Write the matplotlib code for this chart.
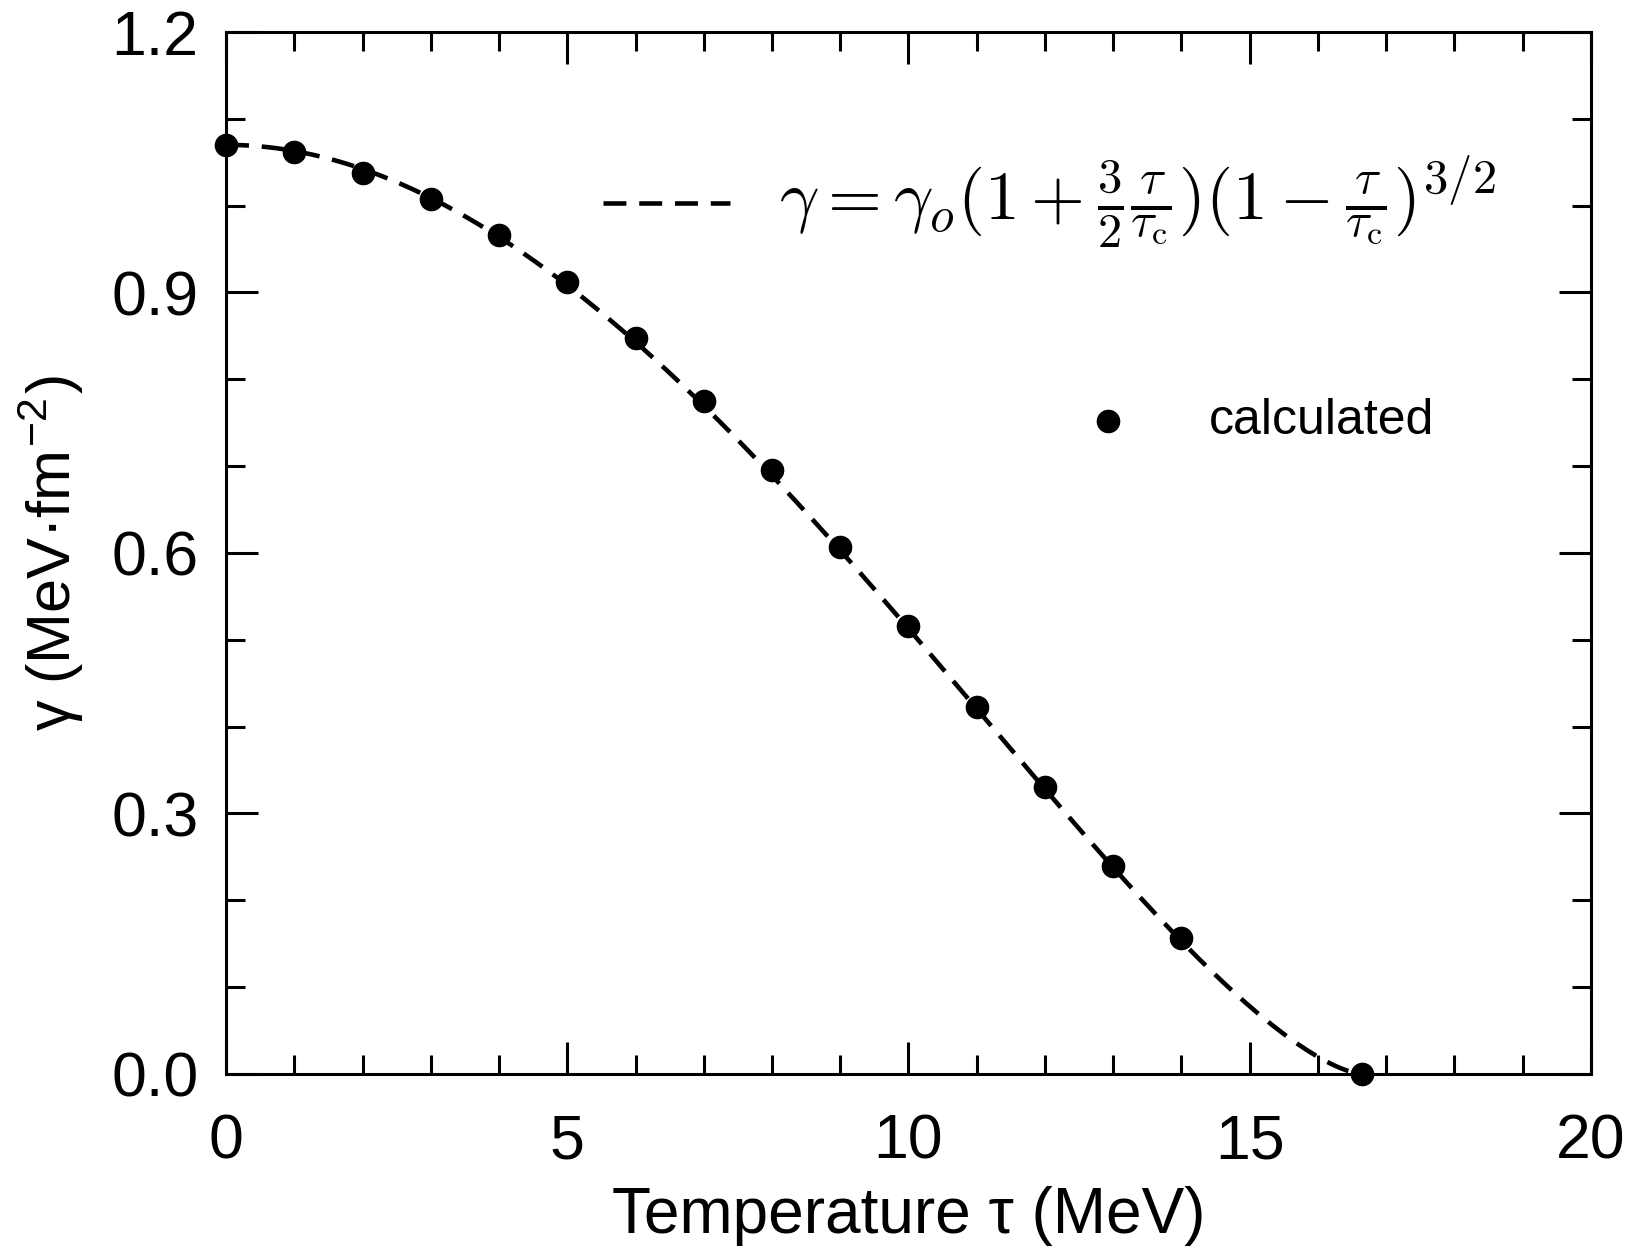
import numpy as np
import matplotlib
matplotlib.use("Agg")
import matplotlib.pyplot as plt
from matplotlib.ticker import MultipleLocator

# Data
tau_calc = [0, 1, 2, 3, 4, 5, 6, 7, 8, 9, 10, 11, 12, 13, 14, 16.64]
gamma_calc = [1.070, 1.062, 1.038, 1.008, 0.966, 0.912, 0.848, 0.775,
              0.695, 0.607, 0.516, 0.423, 0.330, 0.239, 0.157, 0.0]
gamma0 = 1.07
tau_c = 16.64

x_ticks = [0, 5, 10, 15, 20]
y_ticks = [0.0, 0.3, 0.6, 0.9, 1.2]

plt.rcParams['font.family'] = ['Liberation Sans', 'DejaVu Sans']
plt.rcParams['mathtext.fontset'] = 'cm'

fig = plt.figure(figsize=(16.5, 12.58), dpi=100)
ax = fig.add_axes([0.137, 0.1463, 0.8272, 0.8283])

dash = (0, (5.0, 2.8))
tau_fit = np.linspace(0, tau_c, 400)
t = tau_fit / tau_c
gamma_fit = gamma0 * (1 + 1.5 * t) * np.clip(1 - t, 0, None) ** 1.5
ax.plot(tau_fit, gamma_fit, color='black', lw=3.3, ls=dash)
ax.plot(tau_calc, gamma_calc, 'o', color='black', ms=16, clip_on=False, zorder=5)

ax.set_xlim(0, 20)
ax.set_ylim(0, 1.2)
ax.set_xticks(x_ticks)
ax.set_yticks(y_ticks)
ax.set_xticklabels([str(v) for v in x_ticks])
ax.set_yticklabels([f"{v:.1f}" for v in y_ticks])
ax.xaxis.set_minor_locator(MultipleLocator(1))
ax.yaxis.set_minor_locator(MultipleLocator(0.1))
ax.tick_params(which='both', direction='in', top=True, right=True, width=2.2)
ax.tick_params(which='major', length=23, labelsize=45)
ax.tick_params(which='minor', length=14)
ax.tick_params(axis='x', which='major', pad=28)
ax.tick_params(axis='y', which='major', pad=20)
for s in ax.spines.values():
    s.set_linewidth(2.2)

ax.set_xlabel('Temperature τ (MeV)', fontsize=46, labelpad=10)
ax.set_ylabel('γ (MeV·fm$^{\\mathregular{-2}}$)', fontsize=44, labelpad=18)

# legend drawn manually
ax.plot([0.276, 0.369], [0.836, 0.836], transform=ax.transAxes, color='black',
        lw=3.3, ls=dash)
ax.text(0.405, 0.836,
        r'$\gamma = \gamma_o(1+\frac{3}{2}\frac{\tau}{\tau_{\rm c}})(1-\frac{\tau}{\tau_{\rm c}})^{3/2}$',
        transform=ax.transAxes, fontsize=50, va='center', ha='left')
ax.plot([0.646], [0.6265], 'o', color='black', ms=16, transform=ax.transAxes)
ax.text(0.72, 0.6265, 'calculated', transform=ax.transAxes, fontsize=36,
        va='center', ha='left')

fig.savefig('out.png', dpi=100)
